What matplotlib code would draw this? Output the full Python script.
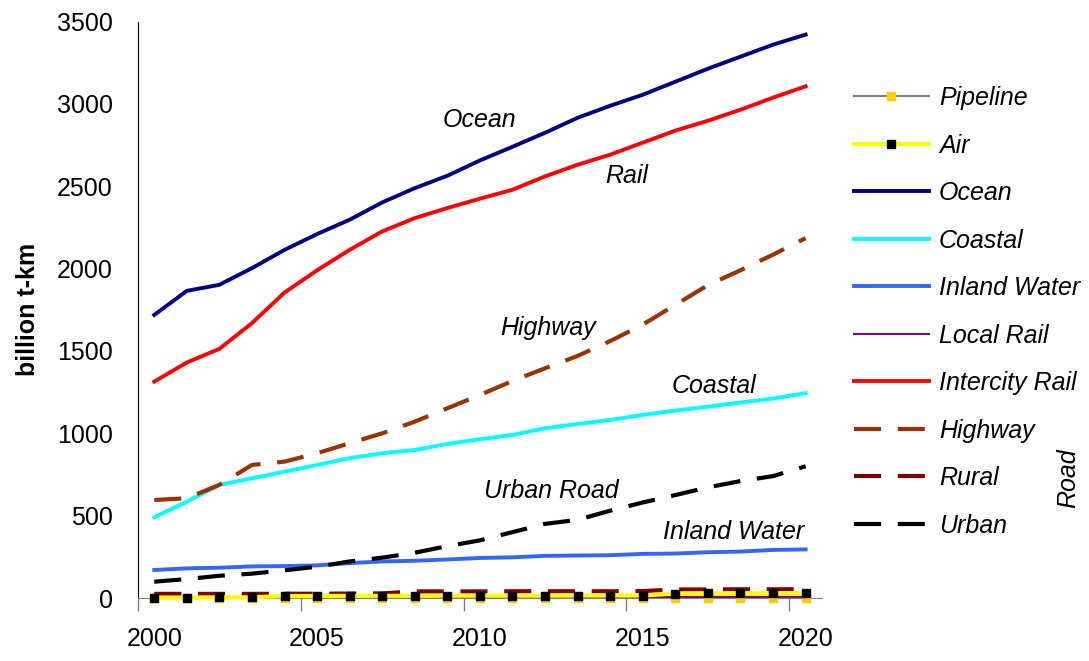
import matplotlib.pyplot as plt

plt.rcParams['font.family'] = ['Liberation Sans', 'DejaVu Sans']

years = list(range(2000, 2021))

pipeline = [1, 1, 1, 1, 1, 1, 1, 1, 1, 1, 1, 1, 1, 1, 1, 1, 1, 1, 1, 1, 1]
air = [3, 3, 4, 4, 12, 12, 13, 13, 13, 14, 14, 14, 14, 15, 15, 15, 27, 28, 28, 29, 30]
ocean = [1719, 1865, 1902, 2003, 2114, 2210, 2297, 2402, 2489, 2564, 2657,
         2740, 2825, 2916, 2989, 3056, 3135, 3214, 3287, 3360, 3421]
coastal = [490, 585, 687, 727, 767, 808, 849, 879, 899, 936, 964,
           990, 1031, 1057, 1081, 1112, 1138, 1162, 1187, 1211, 1244]
inland_water = [170, 180, 184, 192, 194, 198, 212, 222, 226, 234, 243,
                247, 256, 258, 260, 268, 270, 278, 282, 292, 295]
local_rail = [5, 5, 5, 5, 6, 6, 6, 6, 6, 6, 6, 6, 6, 6, 6, 6, 7, 7, 7, 7, 7]
intercity_rail = [1314, 1430, 1513, 1669, 1855, 1990, 2114, 2226, 2307, 2368, 2425,
                  2479, 2560, 2631, 2692, 2765, 2838, 2898, 2965, 3038, 3107]
highway = [595, 606, 687, 808, 828, 879, 940, 1000, 1071, 1152, 1233,
           1318, 1395, 1470, 1560, 1660, 1780, 1900, 1990, 2085, 2185]
rural = [25, 25, 25, 25, 26, 26, 27, 28, 40, 40, 40, 41, 41, 41, 41, 42, 52, 52, 53, 53, 53]
urban = [99, 115, 135, 148, 168, 190, 222, 245, 275, 315, 350,
         400, 450, 475, 530, 580, 625, 672, 710, 740, 800]

x = list(range(len(years)))
dash = (0, (6.5, 4))

fig = plt.figure(figsize=(10.89, 6.61), dpi=100)
ax = fig.add_axes([0.1267, 0.0953, 0.628, 0.872])

ax.plot(x, pipeline, color='#808080', lw=1.5, marker='s', ms=6,
        mfc='#FFCC00', mec='#FFCC00', label='Pipeline', clip_on=False, zorder=3)
ax.plot(x, air, color='#FFFF00', lw=3, marker='s', ms=6,
        mfc='black', mec='black', label='Air', clip_on=False, zorder=6)
ax.plot(x, ocean, color='#000080', lw=2.8, label='Ocean')
ax.plot(x, coastal, color='#00FFFF', lw=2.8, label='Coastal')
ax.plot(x, inland_water, color='#3366FF', lw=2.8, label='Inland Water')
ax.plot(x, local_rail, color='#800080', lw=1.5, label='Local Rail', zorder=4)
ax.plot(x, intercity_rail, color='#FF0000', lw=2.8, label='Intercity Rail')
ax.plot(x, highway, color='#993300', lw=3, ls=dash, label='Highway')
ax.plot(x, rural, color='#800000', lw=3, ls=dash, label='Rural', zorder=5)
ax.plot(x, urban, color='black', lw=3, ls=dash, label='Urban')

ax.set_xlim(-0.5, 20.5)
ax.set_ylim(0, 3500)
ax.set_yticks(range(0, 3501, 500))
ax.set_xticks([0, 5, 10, 15, 20])
ax.set_xticklabels(['2000', '2005', '2010', '2015', '2020'])
ax.set_xticks([-0.5, 4.5, 9.5, 14.5, 19.5], minor=True)
ax.tick_params(axis='x', which='major', length=0, pad=21, labelsize=18)
ax.tick_params(axis='x', which='minor', length=9, width=1, color='#808080')
ax.tick_params(axis='y', length=0, pad=18, labelsize=18)
ax.spines['top'].set_visible(False)
ax.spines['right'].set_visible(False)
ax.spines['bottom'].set_color('#808080')
ax.spines['left'].set_color('black')
ax.set_ylabel('billion t-km', fontsize=18, fontweight='bold', labelpad=12)

for txt, xx, yy in [('Ocean', 10.0, 2900), ('Rail', 14.5, 2560), ('Highway', 12.1, 1640),
                    ('Coastal', 17.2, 1290), ('Urban Road', 12.2, 650),
                    ('Inland Water', 17.8, 400)]:
    ax.text(xx, yy, txt, fontsize=18, style='italic', ha='center', va='center')

handles, labels = ax.get_legend_handles_labels()
leg = fig.legend(handles, labels, loc='upper left', bbox_to_anchor=(0.775, 0.885),
                 frameon=False, prop={'size': 18, 'style': 'italic'},
                 handlelength=3.0, handletextpad=0.4, labelspacing=0.94,
                 borderaxespad=0)
fig.text(0.981, 0.277, 'Road', rotation=90, fontsize=18, style='italic',
         ha='center', va='center')

fig.savefig('out.png', dpi=100)
